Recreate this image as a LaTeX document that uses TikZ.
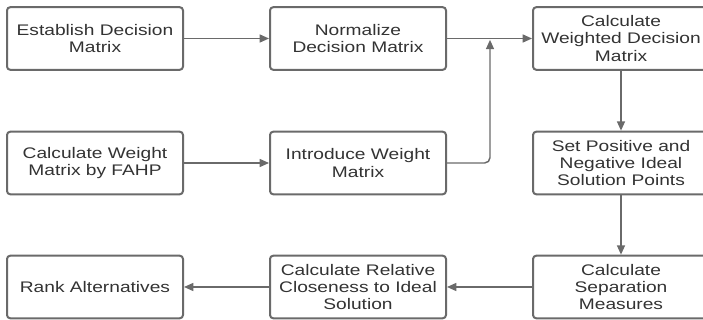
\documentclass[tikz,border=0pt]{standalone}
\usepackage{fontspec}
\setmainfont{Liberation Sans}[FakeStretch=1.25]
\usetikzlibrary{arrows.meta}
\definecolor{linegray}{HTML}{6A6A6A}
\definecolor{textgray}{HTML}{333333}
\tikzset{
	stepbox/.style={draw=linegray, line width=1.5pt, rounded corners=2.5pt, fill=white,
		minimum width=132pt, minimum height=47pt, align=center, text=textgray,
		font=\fontsize{11.5}{12.8}\selectfont, inner sep=1pt},
	flow/.style={draw=linegray, line width=1.1pt, -{Triangle[length=7pt,width=6pt]}}
}
\begin{document}
\begin{tikzpicture}[x=0.75pt, y=0.75pt]
\useasboundingbox (0,0) rectangle (703,320);

% first row
\node[stepbox] (establish) at (95,281.5) {Establish Decision\\Matrix};
\node[stepbox] (normalize) at (358,281.5) {Normalize\\Decision Matrix};
\node[stepbox] (weighted) at (621,281.5) {Calculate\\Weighted Decision\\Matrix};

% second row
\node[stepbox] (fahp) at (95,157) {Calculate Weight\\Matrix by FAHP};
\node[stepbox] (introduce) at (358,157) {Introduce Weight\\Matrix};
\node[stepbox] (ideal) at (621,157) {Set Positive and\\Negative Ideal\\Solution Points};

% third row
\node[stepbox] (rank) at (95,33) {Rank Alternatives};
\node[stepbox] (closeness) at (358,33) {Calculate Relative\\Closeness to Ideal\\Solution};
\node[stepbox] (separation) at (621,33) {Calculate\\Separation\\Measures};

\coordinate (join) at (490,281.5);

\draw [flow] (establish) -- (normalize);
\draw [flow] (normalize) -- (weighted);
\draw [flow] (fahp) -- (introduce);
\draw [flow, rounded corners=4pt] (introduce.east) -| ([yshift=-1pt]join);
\draw [flow] (weighted) -- (ideal);
\draw [flow] (ideal) -- (separation);
\draw [flow] (separation) -- (closeness);
\draw [flow] (closeness) -- (rank);
\end{tikzpicture}
\end{document}
